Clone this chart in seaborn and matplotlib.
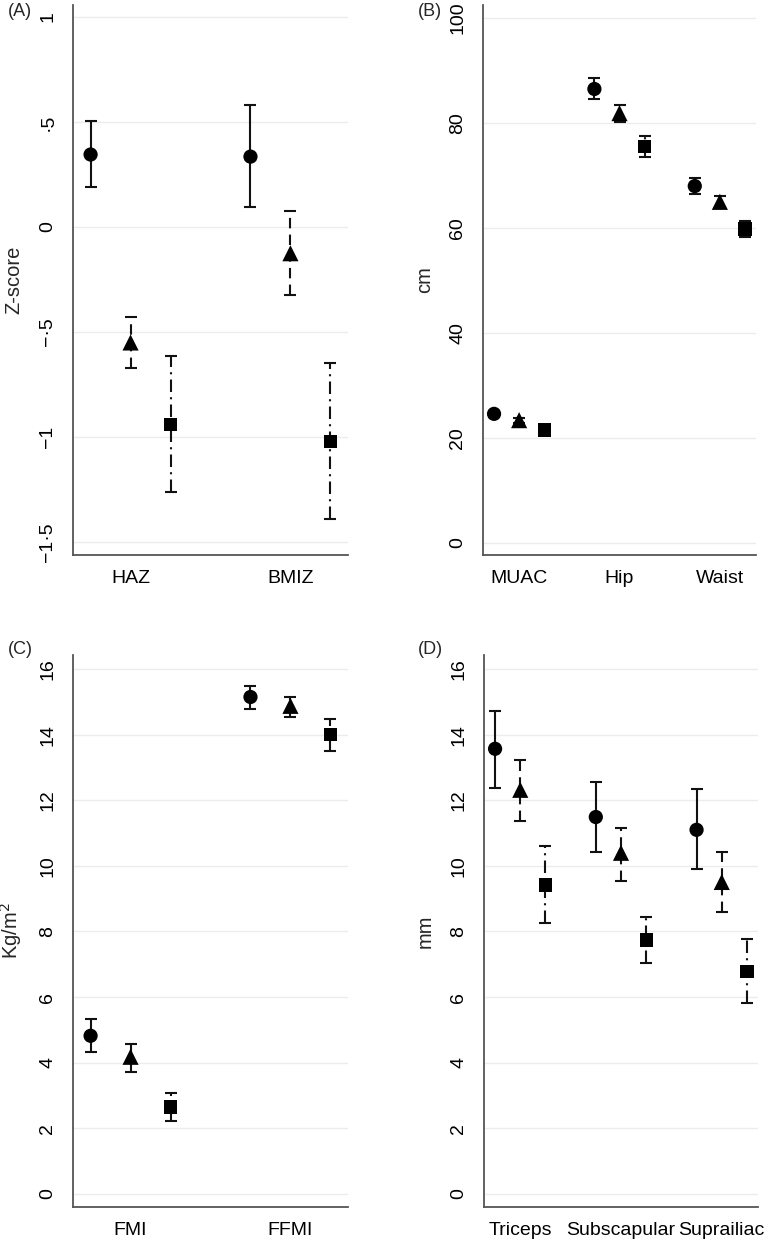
## Anthropometry by group, four panels (A-D)

import numpy as np
import matplotlib
matplotlib.use("Agg")
import matplotlib.pyplot as plt
import pandas as pd
import seaborn as sns

# groups: circle, triangle, square
groups = ["G1", "G2", "G3"]

# (A) z-scores
a_cats = ["HAZ", "BMIZ"]
a_mean = {"G1": [0.345, 0.335], "G2": [-0.55, -0.125], "G3": [-0.94, -1.02]}
a_lo = {"G1": [0.19, 0.095], "G2": [-0.67, -0.325], "G3": [-1.26, -1.39]}
a_hi = {"G1": [0.505, 0.58], "G2": [-0.43, 0.075], "G3": [-0.615, -0.65]}
a_ticks = [-1.5, -1, -0.5, 0, 0.5, 1]
a_ticklabels = ["\u22121\u00b75", "\u22121", "\u2212\u00b75", "0", "\u00b75", "1"]

# (B) circumferences
b_cats = ["MUAC", "Hip", "Waist"]
b_mean = {"G1": [24.6, 86.5, 68.0], "G2": [23.4, 81.9, 65.0], "G3": [21.5, 75.6, 59.8]}
b_lo = {"G1": [24.0, 84.6, 66.5], "G2": [22.9, 80.3, 63.8], "G3": [21.0, 73.5, 58.3]}
b_hi = {"G1": [25.2, 88.5, 69.5], "G2": [23.9, 83.4, 66.1], "G3": [22.0, 77.5, 61.3]}
b_ticks = [0, 20, 40, 60, 80, 100]

# (C) indices
c_cats = ["FMI", "FFMI"]
c_mean = {"G1": [4.82, 15.15], "G2": [4.18, 14.88], "G3": [2.65, 14.0]}
c_lo = {"G1": [4.33, 14.79], "G2": [3.72, 14.55], "G3": [2.23, 13.5]}
c_hi = {"G1": [5.34, 15.49], "G2": [4.57, 15.15], "G3": [3.08, 14.48]}
c_ticks = [0, 2, 4, 6, 8, 10, 12, 14, 16]

# (D) skinfolds
d_cats = ["Triceps", "Subscapular", "Suprailiac"]
d_mean = {"G1": [13.57, 11.49, 11.10], "G2": [12.32, 10.40, 9.51], "G3": [9.42, 7.74, 6.77]}
d_lo = {"G1": [12.38, 10.43, 9.91], "G2": [11.37, 9.54, 8.60], "G3": [8.26, 7.04, 5.82]}
d_hi = {"G1": [14.73, 12.56, 12.35], "G2": [13.23, 11.16, 10.43], "G3": [10.61, 8.45, 7.77]}
d_ticks = [0, 2, 4, 6, 8, 10, 12, 14, 16]

sns.set_style("white")
plt.rcParams["font.family"] = ["Liberation Sans", "DejaVu Sans"]

markers = {"G1": "o", "G2": "^", "G3": "s"}
msizes = {"G1": 105, "G2": 135, "G3": 92}
offsets = {"G1": -0.25, "G2": 0.0, "G3": 0.25}
bar_ls = {"G1": "-", "G2": (0, (5, 3)), "G3": (0, (6, 2.5, 1, 2.5))}


def panel(ax, cats, mean, lo, hi, ticks, ticklabels, ylim, ylabel):
    rows = []
    for g in groups:
        for i, c in enumerate(cats):
            rows.append({"group": g, "cat": c, "pos": i + offsets[g],
                         "mean": mean[g][i], "lo": lo[g][i], "hi": hi[g][i]})
    df = pd.DataFrame(rows)

    for g in groups:
        d = df[df["group"] == g]
        eb = ax.errorbar(d["pos"], d["mean"],
                         yerr=[d["mean"] - d["lo"], d["hi"] - d["mean"]],
                         fmt="none", ecolor="#111111", elinewidth=1.5,
                         capsize=4, capthick=1.5, zorder=2)
        eb[2][0].set_linestyle(bar_ls[g])

    sns.scatterplot(data=df, x="pos", y="mean", style="group", markers=markers,
                    size="group", sizes=msizes, color="black", linewidth=0,
                    legend=False, ax=ax, zorder=3)

    n = len(cats)
    ax.set_xlim(-0.36, n - 1 + 0.36)
    ax.set_ylim(*ylim)
    ax.set_xticks(range(n))
    ax.set_xticklabels(cats, fontsize=14)
    ax.set_yticks(ticks)
    ax.set_yticklabels(ticklabels if ticklabels else [str(t) for t in ticks],
                       fontsize=14, rotation=90, va="center")
    ax.set_xlabel("")
    ax.set_ylabel(ylabel, fontsize=14.5)
    ax.yaxis.set_label_coords(-0.18, 0.5)

    ax.grid(True, axis="y", color="#ececec", lw=1)
    ax.set_axisbelow(True)
    for s in ["top", "right"]:
        ax.spines[s].set_visible(False)
    for s in ["left", "bottom"]:
        ax.spines[s].set_color("#555555")
        ax.spines[s].set_linewidth(1.3)
    ax.tick_params(axis="both", direction="out", length=5, width=1,
                   color="#555555", labelcolor="black")
    ax.tick_params(axis="x", pad=6)
    ax.tick_params(axis="y", pad=7)


fig = plt.figure(figsize=(7.72, 12.41), dpi=100)
W, H = 772, 1241

def add_ax(x0, x1, ytop, ybot):
    return fig.add_axes([x0 / W, 1 - ybot / H, (x1 - x0) / W, (ybot - ytop) / H])

axA = add_ax(73, 348, 5, 555)
axB = add_ax(483, 756, 5, 555)
axC = add_ax(73, 348, 655, 1207)
axD = add_ax(484, 758, 655, 1207)

panel(axA, a_cats, a_mean, a_lo, a_hi, a_ticks, a_ticklabels, (-1.562, 1.057), "Z-score")
panel(axB, b_cats, b_mean, b_lo, b_hi, b_ticks, None, (-2.29, 102.5), "cm")
panel(axC, c_cats, c_mean, c_lo, c_hi, c_ticks, None, (-0.40, 16.43), "Kg/m$^2$")
panel(axD, d_cats, d_mean, d_lo, d_hi, d_ticks, None, (-0.40, 16.43), "mm")

for lab, x, y in [("(A)", 8, 12), ("(B)", 418, 12), ("(C)", 8, 650), ("(D)", 418, 650)]:
    fig.text(x / W, 1 - y / H, lab, fontsize=13, va="center", ha="left")

fig.savefig("out.png", dpi=100)
